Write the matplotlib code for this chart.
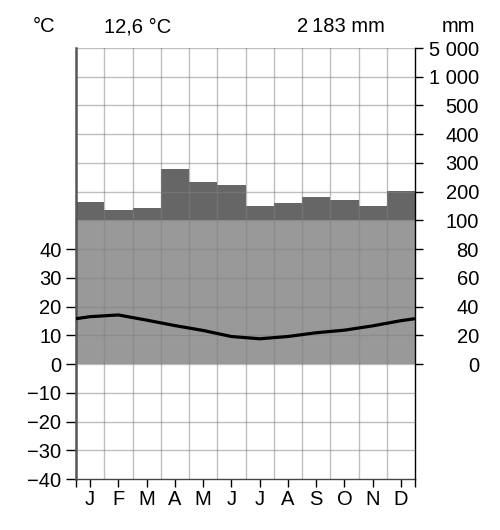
import matplotlib
matplotlib.use("Agg")
import matplotlib.pyplot as plt
import numpy as np

plt.rcParams['font.family'] = ['Liberation Sans', 'DejaVu Sans']

months = ["J", "F", "M", "A", "M", "J", "J", "A", "S", "O", "N", "D"]
temperature = [16.5, 17.1, 15.3, 13.4, 11.7, 9.6, 8.8, 9.6, 10.9, 11.8, 13.3, 15.1]
precipitation = [163, 135, 142, 278, 235, 222, 149, 159, 180, 170, 151, 204]
left_ticks = [-40, -30, -20, -10, 0, 10, 20, 30, 40]
right_tick_labels = ["0", "20", "40", "60", "80", "100", "200", "300", "400", "500",
                     "1 000", "5 000"]
header_mean = "12,6 °C"
header_sum = "2\u2009183 mm"


def scale_p(p):
    p = np.asarray(p, dtype=float)
    return np.where(p <= 100, p / 2.0, 50 + (p - 100) / 10.0)


fig = plt.figure(figsize=(5.0, 5.3), dpi=100)
ax = fig.add_axes([0.152, 0.0962, 0.678, 0.8132])
ax.set_xlim(0, 12)
ax.set_ylim(-40, 110)

x = np.arange(12) + 0.5
ps = scale_p(precipitation)
ax.bar(x, np.minimum(ps, 50), width=1.0, bottom=0, color="#999999", edgecolor="none", zorder=1)
ax.bar(x, np.maximum(ps - 50, 0), width=1.0, bottom=50, color="#666666", edgecolor="none", zorder=1)

grid_kw = dict(color="#808080", alpha=0.5, lw=1.0, zorder=2)
for gx in range(1, 12):
    ax.axvline(gx, **grid_kw)
for gy in range(-30, 111, 10):
    ax.axhline(gy, **grid_kw)

edge = (temperature[0] + temperature[-1]) / 2.0
tx = np.concatenate([[0], x, [12]])
ty = np.concatenate([[edge], temperature, [edge]])
ax.plot(tx, ty, color="black", lw=2.3, zorder=3, solid_capstyle="butt")

ax.spines["top"].set_visible(False)
ax.spines["left"].set_color("#555555")
ax.spines["left"].set_linewidth(1.8)
ax.spines["bottom"].set_color("#444444")
ax.spines["bottom"].set_linewidth(1.0)
ax.spines["right"].set_visible(False)

fs = 14.5
ax.set_yticks(left_ticks)
ax.set_yticklabels([str(v).replace("-", "\u2212") for v in left_ticks])
ax.tick_params(axis="y", direction="out", length=7, width=1.0, pad=3.5, labelsize=fs, color="black")

xt = [0] + list(x) + [12]
ax.set_xticks(xt)
ax.set_xticklabels([""] + months + [""])
ax.tick_params(axis="x", direction="out", length=6, width=1.0, pad=2, labelsize=fs, color="black")

ax2 = ax.twinx()
ax2.set_ylim(-40, 110)
for s in ["top", "left", "bottom"]:
    ax2.spines[s].set_visible(False)
ax2.spines["right"].set_color("black")
ax2.spines["right"].set_linewidth(1.0)
ax2.set_yticks(list(range(0, 111, 10)))
ax2.set_yticklabels(right_tick_labels)
ax2.tick_params(axis="y", direction="out", length=6, width=1.0, pad=40, labelsize=fs, color="black")
for lab in ax2.get_yticklabels():
    lab.set_horizontalalignment("right")

fig.text(44 / 500, 1 - 27 / 530, "°C", ha="center", va="center", fontsize=fs)
fig.text(138 / 500, 1 - 27 / 530, header_mean, ha="center", va="center", fontsize=fs)
fig.text(341 / 500, 1 - 27 / 530, header_sum, ha="center", va="center", fontsize=fs)
fig.text(475 / 500, 1 - 27 / 530, "mm", ha="right", va="center", fontsize=fs)

fig.savefig("out.png", dpi=100)
